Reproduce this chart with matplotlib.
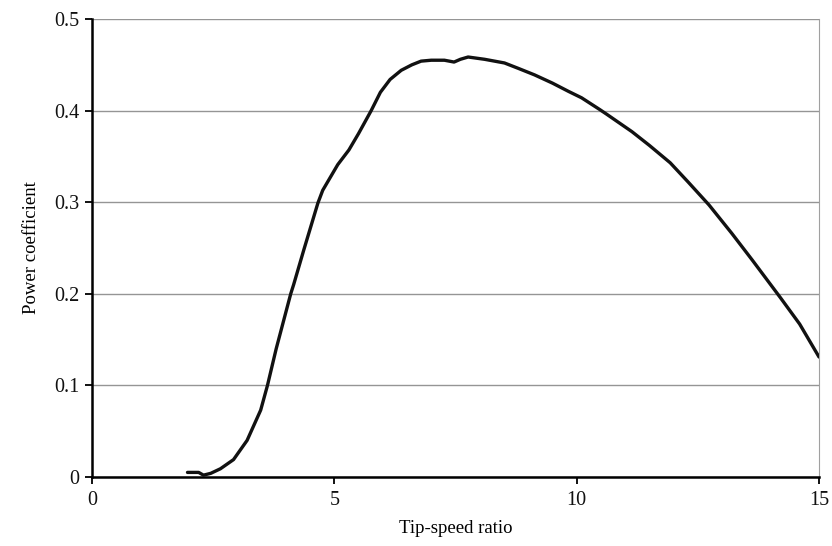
import matplotlib.pyplot as plt

# Curva de coeficiente de potencia
tsr = [1.97, 2.2, 2.3, 2.45, 2.65, 2.92, 3.2, 3.48, 3.62, 3.8, 4.1, 4.16, 4.37,
       4.66, 4.76, 5.07, 5.3, 5.5, 5.76, 5.95, 6.15, 6.38, 6.6, 6.79, 7.0,
       7.27, 7.47, 7.6, 7.76, 8.1, 8.51, 8.8, 9.13, 9.5, 9.83, 10.1, 10.48,
       10.62, 11.14, 11.5, 11.93, 12.3, 12.73, 13.2, 13.62, 14.2, 14.6, 15.0]
cp = [0.005, 0.005, 0.002, 0.004, 0.009, 0.019, 0.04, 0.073, 0.1, 0.14, 0.2,
      0.21, 0.248, 0.299, 0.313, 0.341, 0.357, 0.375, 0.4, 0.42, 0.434, 0.444,
      0.45, 0.454, 0.455, 0.455, 0.453, 0.456, 0.4585, 0.456, 0.452, 0.446,
      0.439, 0.43, 0.421, 0.414, 0.401, 0.396, 0.377, 0.362, 0.343, 0.322,
      0.297, 0.266, 0.237, 0.196, 0.167, 0.131]

x_ticks = [0, 5, 10, 15]
y_ticks = [0, 0.1, 0.2, 0.3, 0.4, 0.5]
y_labels = ['0', '0.1', '0.2', '0.3', '0.4', '0.5']

plt.rcParams['font.family'] = ['Liberation Serif', 'DejaVu Serif']

fig = plt.figure(figsize=(8.32, 5.46), dpi=100)
ax = fig.add_axes([0.1106, 0.1264, 0.8738, 0.8388])

ax.plot(tsr, cp, color='#111111', linewidth=2.4, solid_joinstyle='round',
        solid_capstyle='round', zorder=3)

ax.set_xlim(0, 15)
ax.set_ylim(0, 0.5)
ax.set_xticks(x_ticks)
ax.set_xticklabels([str(t) for t in x_ticks])
ax.set_yticks(y_ticks)
ax.set_yticklabels(y_labels)

# rejilla horizontal gris, casi continua
ax.grid(True, axis='y', color='#959595', linewidth=1.0)
ax.set_axisbelow(True)

ax.spines['top'].set_visible(False)
ax.spines['right'].set_color('#a0a0a0')
ax.spines['right'].set_linewidth(0.8)
ax.spines['left'].set_linewidth(1.8)
ax.spines['bottom'].set_linewidth(1.8)

ax.tick_params(axis='both', direction='out', length=5, width=1.4,
               labelsize=14.5, colors='#111111')
ax.tick_params(axis='x', pad=5)
ax.tick_params(axis='y', pad=4)

ax.set_xlabel('Tip-speed ratio', fontsize=13.5, labelpad=7)
ax.set_ylabel('Power coefficient', fontsize=13.5, labelpad=10)

fig.savefig('out.png', dpi=100)
